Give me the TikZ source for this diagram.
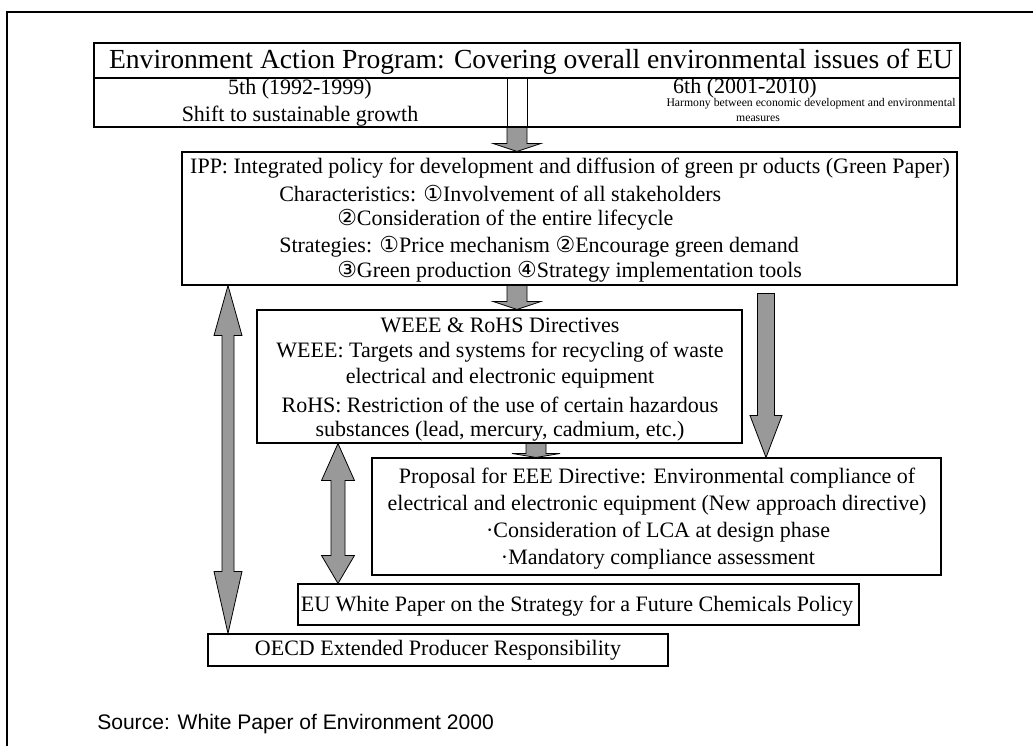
\documentclass[tikz,border=0pt]{standalone}
\usepackage{fontspec}
\setmainfont{Liberation Serif}
\newfontfamily\circfont{DejaVu Sans}
\newfontfamily\srcfont{Liberation Sans}
\usetikzlibrary{calc, fit, positioning}

% circled numbers
\newcommand{\cn}[1]{{\circfont #1}}

% hatched block arrows
% \fatdown{top}{tip}{shaft half}{head half}{head length}
\newcommand{\fatdown}[5]{%
  \draw[hatched] ($(#1)+(-#3,0)$) -- ($(#2)+(-#3,-#5)$) -- ($(#2)+(-#4,-#5)$) -- (#2)
    -- ($(#2)+(#4,-#5)$) -- ($(#2)+(#3,-#5)$) -- ($(#1)+(#3,0)$) -- cycle;}
% \fatboth{top tip}{bottom tip}{shaft half}{head half}{top head length}{bottom head length}
\newcommand{\fatboth}[6]{%
  \draw[hatched] ($(#1)+(-#3,#5)$) -- ($(#1)+(-#4,#5)$) -- (#1) -- ($(#1)+(#4,#5)$) -- ($(#1)+(#3,#5)$)
    -- ($(#2)+(#3,-#6)$) -- ($(#2)+(#4,-#6)$) -- (#2) -- ($(#2)+(-#4,-#6)$) -- ($(#2)+(-#3,-#6)$) -- cycle;}

\begin{document}
\begin{tikzpicture}[x=0.75pt, y=-0.75pt,
    box/.style={draw, line width=0.8pt, inner sep=0pt},
    txt/.style={inner sep=0pt, font=\fontsize{16.5}{18}\selectfont},
    small/.style={inner sep=0pt, font=\fontsize{8.8}{10}\selectfont},
    hatched/.style={draw, line width=0.6pt, fill=gray!80}]

    \useasboundingbox (0,0) rectangle (1033,746);

    % Frame
    \draw[line width=0.8pt] (7,746) -- (7,12) -- (1033,12);

    % Boxes
    \node[box, fit={(94,43) (960,78)}] (eap) {};
    \node[box, fit={(94,78) (960,127)}] (periods) {};
    \node[box, fit={(182,152) (957,285)}] (ipp) {};
    \node[box, fit={(257,310) (742,443)}] (weee) {};
    \node[box, fit={(372,458) (941,575)}] (eee) {};
    \node[box, fit={(298,584) (859,625)}] (whitepaper) {};
    \node[box, fit={(208,634) (668,666)}] (oecd) {};

    % Action program
    \node[txt, font=\fontsize{20.7}{22}\selectfont] (eaptitle) at (531,62)
        {Environment Action Program: Covering overall environmental issues of EU};
    \node[txt] (fifth) at (300,89) {5th (1992-1999)};
    \node[txt] (fifthaim) at (300,116) {Shift to sustainable growth};
    \node[txt] (sixth) at (745,88) {6th (2001-2010)};
    \node[small] (sixthaim) at (811,104) {Harmony between economic development and environmental};
    \node[small] (sixthaimb) at (758,119) {measures};

    % IPP
    \node[txt] (ipptitle) at (570,168)
        {IPP: Integrated policy for development and diffusion of green pr oducts (Green Paper)};
    \node[txt, anchor=west] (ippchar) at (279,194) {Characteristics: \cn{①}Involvement of all stakeholders};
    \node[txt, anchor=west] (ippcons) at (337,220) {\cn{②}Consideration of the entire lifecycle};
    \node[txt, anchor=west] (ippstrat) at (279,247) {Strategies: \cn{①}Price mechanism \cn{②}Encourage green demand};
    \node[txt, anchor=west] (ippprod) at (337,272) {\cn{③}Green production \cn{④}Strategy implementation tools};

    % WEEE and RoHS
    \node[txt] (weeetitle) at (500,325) {WEEE \& RoHS Directives};
    \node[txt] (weeea) at (500,352) {WEEE: Targets and systems for recycling of waste};
    \node[txt] (weeeb) at (500,378) {electrical and electronic equipment};
    \node[txt] (rohsa) at (500,405) {RoHS: Restriction of the use of certain hazardous};
    \node[txt] (rohsb) at (500,431) {substances (lead, mercury, cadmium, etc.)};

    % EEE proposal
    \node[txt] (eeea) at (657,478) {Proposal for EEE Directive: Environmental compliance of};
    \node[txt] (eeeb) at (657,505) {electrical and electronic equipment (New approach directive)};
    \node[txt] (eeec) at (658,532) {·Consideration of LCA at design phase};
    \node[txt] (eeed) at (658,559) {·Mandatory compliance assessment};

    % Lower boxes
    \node[txt] (wptext) at (577,606) {EU White Paper on the Strategy for a Future Chemicals Policy};
    \node[txt] (oecdtext) at (oecd.center) {OECD Extended Producer Responsibility};
    \node[txt, anchor=west, font=\srcfont\fontsize{15.8}{17}\selectfont] (source) at (97,724)
        {Source: White Paper of Environment 2000};

    % Arrows
    \coordinate (ax) at (517,0);
    \coordinate (bx) at (536,0);
    \coordinate (rx) at (766,0);
    \coordinate (lx) at (228,0);
    \coordinate (mx) at (338,0);
    \coordinate (rtop) at ($(ipp.south -| rx)+(0,8)$);

    \fatdown{periods.south -| ax}{ipp.north -| ax}{10}{24}{8}
    \draw[line width=0.6pt] ($(eap.south -| ax)+(-10,0)$) -- ($(periods.south -| ax)+(-10,0)$)
        ($(eap.south -| ax)+(10,0)$) -- ($(periods.south -| ax)+(10,0)$);
    \fatdown{ipp.south -| ax}{weee.north -| ax}{10}{24}{8}
    \fatdown{weee.south -| bx}{eee.north -| bx}{10}{24}{4}
    \fatdown{rtop}{eee.north -| rx}{8.5}{16}{42}
    \fatboth{ipp.south -| lx}{oecd.north -| lx}{6}{14}{50}{62}
    \fatboth{weee.south -| mx}{whitepaper.north -| mx}{7}{16.5}{37}{28}
\end{tikzpicture}
\end{document}
